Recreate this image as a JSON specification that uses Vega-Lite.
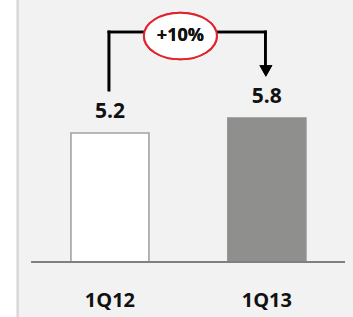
{
  "$schema": "https://vega.github.io/schema/vega-lite/v6.json",
  "width": 353,
  "height": 317,
  "autosize": {"type": "fit", "contains": "padding"},
  "padding": 0,
  "background": "#ffffff",
  "config": {"view": {"stroke": null}},
  "datasets": {
    "bars": [
      {"q": "1Q12", "i": 0, "v": 5.2},
      {"q": "1Q13", "i": 1, "v": 5.8}
    ]
  },
  "data": {"name": "bars"},
  "layer": [
    {
      "mark": {"type": "rect", "fill": "#f2f2f2", "clip": true},
      "encoding": {
        "x": {"datum": -0.587, "type": "quantitative", "scale": {"domain": [-0.6687, 1.517], "nice": false, "zero": false}, "axis": null},
        "x2": {"datum": 1.6},
        "y": {"datum": -3, "type": "quantitative", "scale": {"domain": [-2.218, 10.565], "nice": false, "zero": false}, "axis": null},
        "y2": {"datum": 11}
      }
    },
    {
      "mark": {"type": "rule", "stroke": "#d9d9d9", "strokeWidth": 2.4, "clip": true},
      "encoding": {
        "x": {"datum": -0.587, "type": "quantitative"},
        "y": {"datum": -3, "type": "quantitative"},
        "y2": {"datum": 11}
      }
    },
    {
      "mark": {"type": "bar", "width": 78, "strokeWidth": 1.6},
      "encoding": {
        "x": {"field": "i", "type": "quantitative"},
        "y": {"field": "v", "type": "quantitative"},
        "y2": {"datum": 0},
        "fill": {"field": "q", "type": "nominal", "scale": {"domain": ["1Q12", "1Q13"], "range": ["#ffffff", "#8f8f8e"]}, "legend": null},
        "stroke": {"field": "q", "type": "nominal", "scale": {"domain": ["1Q12", "1Q13"], "range": ["#a3a3a3", "#8f8f8e"]}, "legend": null}
      }
    },
    {
      "mark": {"type": "rule", "stroke": "#808080", "strokeWidth": 2},
      "encoding": {
        "x": {"datum": -0.5015, "type": "quantitative"},
        "x2": {"datum": 1.498},
        "y": {"datum": 0, "type": "quantitative"}
      }
    },
    {
      "mark": {"type": "text", "font": "Open Sans", "fontWeight": "bold", "fontSize": 21, "color": "#111111", "baseline": "alphabetic", "dy": -15},
      "encoding": {
        "x": {"field": "i", "type": "quantitative"},
        "y": {"field": "v", "type": "quantitative"},
        "text": {"field": "v", "type": "quantitative", "format": ".1f"}
      }
    },
    {
      "mark": {"type": "text", "font": "Open Sans", "fontWeight": "bold", "fontSize": 20, "color": "#111111", "baseline": "alphabetic"},
      "encoding": {
        "x": {"field": "i", "type": "quantitative"},
        "y": {"datum": -1.815, "type": "quantitative"},
        "text": {"field": "q", "type": "nominal"}
      }
    },
    {
      "mark": {"type": "rule", "stroke": "#000000", "strokeWidth": 2.6, "strokeCap": "square"},
      "encoding": {
        "x": {"datum": -0.0062, "type": "quantitative"},
        "y": {"datum": 6.935, "type": "quantitative"},
        "y2": {"datum": 9.274}
      }
    },
    {
      "mark": {"type": "rule", "stroke": "#000000", "strokeWidth": 2.6, "strokeCap": "square"},
      "encoding": {
        "x": {"datum": -0.0062, "type": "quantitative"},
        "x2": {"datum": 0.9907},
        "y": {"datum": 9.274, "type": "quantitative"}
      }
    },
    {
      "mark": {"type": "rule", "stroke": "#000000", "strokeWidth": 2.6, "strokeCap": "square"},
      "encoding": {
        "x": {"datum": 0.9907, "type": "quantitative"},
        "y": {"datum": 7.86, "type": "quantitative"},
        "y2": {"datum": 9.274}
      }
    },
    {
      "mark": {"type": "point", "shape": "triangle-down", "size": 169, "filled": true, "fill": "#000000", "opacity": 1, "strokeWidth": 0},
      "encoding": {
        "x": {"datum": 0.9938, "type": "quantitative"},
        "y": {"datum": 7.702, "type": "quantitative"}
      }
    },
    {
      "mark": {"type": "point", "shape": "M-1,0 C-1,-0.3535 -0.5523,-0.64 0,-0.64 C0.5523,-0.64 1,-0.3535 1,0 C1,0.3535 0.5523,0.64 0,0.64 C-0.5523,0.64 -1,0.3535 -1,0 Z", "size": 5329, "filled": true, "fill": "#ffffff", "stroke": "#e3212b", "strokeWidth": 2, "opacity": 1},
      "encoding": {
        "x": {"datum": 0.449, "type": "quantitative"},
        "y": {"datum": 9.113, "type": "quantitative"}
      }
    },
    {
      "mark": {"type": "text", "text": "+10%", "font": "Open Sans", "fontWeight": "bold", "fontSize": 18, "color": "#111111", "baseline": "alphabetic"},
      "encoding": {
        "x": {"datum": 0.449, "type": "quantitative"},
        "y": {"datum": 8.911, "type": "quantitative"}
      }
    }
  ]
}
